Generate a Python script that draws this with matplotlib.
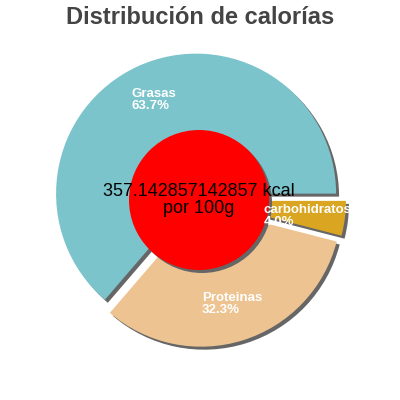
import matplotlib
matplotlib.use('Agg')
import matplotlib.pyplot as plt
from matplotlib.patches import Circle

# Data
labels = ['Grasas', 'Proteinas', 'carbohidratos']
percents = [63.7, 32.3, 4.0]
colors = ['#7BC4CC', '#EDC491', '#DAA520']
kcal = '357.142857142857'
title = 'Distribución de calorías'

# layout (pixel-like coordinates, y up)
cx, cy, r = 199, 200, 140
label_pos = [(131, 312), (202, 108), (264, 196)]

plt.rcParams['font.family'] = ['Liberation Sans', 'DejaVu Sans']

fig = plt.figure(figsize=(4, 4), dpi=100)
ax = fig.add_axes([0, 0, 1, 1])

explode = [7, 7, 7]
# shadow
ax.pie(percents, explode=explode, colors=['#666666'] * 3, startangle=0,
       radius=r, center=(cx + 3, cy - 3), frame=True,
       wedgeprops=dict(linewidth=0))
# slices
ax.pie(percents, explode=explode, colors=colors, startangle=0,
       radius=r, center=(cx, cy), frame=True,
       wedgeprops=dict(linewidth=0))
ax.set_xlim(0, 400)
ax.set_ylim(0, 400)
ax.set_aspect('equal')
ax.axis('off')

for (x, y), lab, p in zip(label_pos, labels, percents):
    ax.text(x, y, f'{lab}\n{p:.1f}%', color='white', fontsize=9.5,
            fontweight='bold', ha='left', va='top', linespacing=0.95)

# centre circle
ax.add_patch(Circle((cx + 3, cy - 3), 70, color='#666666', lw=0))
ax.add_patch(Circle((cx, cy), 70, color='red', lw=0))
ax.text(cx, 204, f'{kcal} kcal', fontsize=13, color='black',
        ha='center', va='baseline')
ax.text(cx, 187, 'por 100g', fontsize=13, color='black',
        ha='center', va='baseline')

fig.text(0.5, 0.985, title, fontsize=17, fontweight='bold',
         color='#444444', ha='center', va='top')

fig.savefig('out.png', dpi=100)
